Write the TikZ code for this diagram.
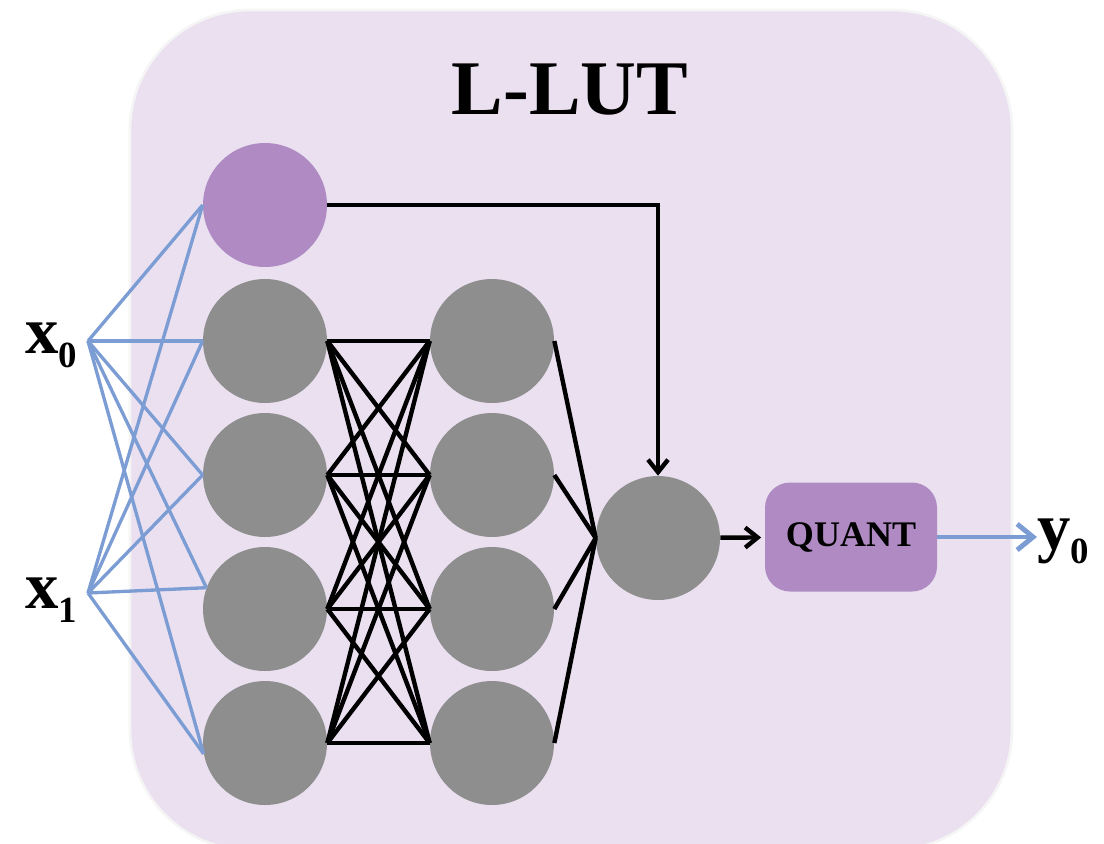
\documentclass[tikz,border=0pt]{standalone}
\usepackage{fontspec}
\setmainfont{Liberation Serif}
\usepackage{xcolor}
\usetikzlibrary{arrows.meta,shapes}

\definecolor{lutbg}{RGB}{234,224,240}
\definecolor{lutpurple}{RGB}{175,138,195}
\definecolor{lutgray}{RGB}{142,142,142}
\definecolor{lutblue}{RGB}{124,156,212}

% bold variable with a lowered index
\newcommand{\var}[2]{\fontsize{38}{40}\selectfont\bfseries #1\raisebox{-8pt}{\fontsize{21}{22}\selectfont\bfseries #2}}

\tikzset{
  neuron/.style={circle, fill=lutgray, minimum size=2.48cm, inner sep=0pt},
  biasnode/.style={neuron, fill=lutpurple},
  wire/.style={line width=2.5pt, black},
  fan/.style={line width=1.9pt, lutblue},
  quantbox/.style={rectangle, rounded corners=0.5cm, fill=lutpurple,
    minimum width=3.44cm, minimum height=2.18cm,
    font=\fontsize{20.5}{22}\selectfont\bfseries},
  barb/.style={-{Straight Barb[length=0.25cm,width=0.4cm]}},
}

\begin{document}
\begin{tikzpicture}[x=0.02cm,y=-0.02cm]
        \useasboundingbox (0,0) rectangle (1104,843);
        \draw[draw=black!4, line width=1.5pt, fill=lutbg, rounded corners=2.4cm] (130,10) rectangle (1012,850);
        \node[font=\fontsize{44}{48}\selectfont\bfseries] (title) at (570,90) {L-LUT};

        % layers
        \node[biasnode] (b) at (265,205) {};
        \foreach \i/\y in {1/341,2/475,3/609,4/743}{
            \node[neuron] (h\i) at (265,\y) {};
            \node[neuron] (g\i) at (492,\y) {};
        }
        \node[neuron] (out) at (658,538) {};
        \node[quantbox] (q) at (851,537) {QUANT};

        % inputs
        \coordinate (x0) at (88,341);
        \coordinate (x1) at (88,593);
        \node[anchor=base west, inner sep=0pt] (lx0) at (25,353) {\var{x}{0}};
        \node[anchor=base west, inner sep=0pt] (lx1) at (25,608) {\var{x}{1}};
        \foreach \s in {x0,x1}
            \foreach \t in {b.west,h1.west,h2.west,h3.160,h4.190}
                \draw[fan] (\s) -- (\t);

        \foreach \i in {1,...,4}{
            \foreach \j in {1,...,4}
                \draw[wire] (h\i.east) -- (g\j.west);
            \draw[wire] (g\i.east) -- (out.west);
        }
        \draw[wire, barb] (b.east) -| (out.north);
        \draw[wire, barb, shorten >=2pt] (out) -- (q);

        % output
        \node[anchor=base west, inner sep=0pt] (ly0) at (1037,549) {\var{y}{0}};
        \draw[line width=2.8pt, lutblue, -{Straight Barb[length=0.32cm,width=0.52cm]}] (q.east) -- (ly0.west |- q.east);
\end{tikzpicture}
\end{document}
